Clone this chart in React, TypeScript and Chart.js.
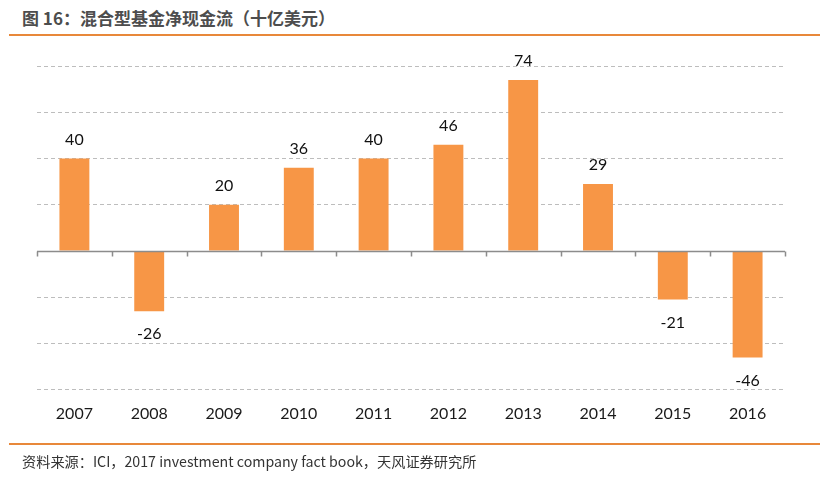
import React, { useEffect, useRef } from "react";
import { Chart, registerables } from "chart.js";

Chart.register(...registerables);

const categories = ["2007", "2008", "2009", "2010", "2011", "2012", "2013", "2014", "2015", "2016"];
const netFlows = [40, -26, 20, 36, 40, 46, 74, 29, -21, -46];
const yMin = -60;
const yMax = 80;
const yStep = 20;

const titleText = "图 16：混合型基金净现金流（十亿美元）";
const sourceText = "资料来源：ICI，2017 investment company fact book，天风证券研究所";

const BAR_COLOR = "#F79646";
const ACCENT = "#E8883A";
const NUM_FONT = "Lato, 'Open Sans', sans-serif";
const CJK_FONT = "'Noto Sans CJK SC', 'Noto Sans', sans-serif";

const zeroAxisPlugin = {
  id: "zeroAxis",
  afterDatasetsDraw(chart: any) {
    const { ctx, chartArea, scales } = chart;
    const y0 = Math.round(scales.y.getPixelForValue(0)) + 0.5;
    ctx.save();
    ctx.strokeStyle = "#8c8c8c";
    ctx.lineWidth = 1.5;
    ctx.beginPath();
    ctx.moveTo(chartArea.left, y0);
    ctx.lineTo(chartArea.right, y0);
    const n = categories.length;
    const w = (chartArea.right - chartArea.left) / n;
    for (let i = 0; i <= n; i++) {
      const x = Math.round(chartArea.left + i * w) + 0.5;
      ctx.moveTo(x, y0);
      ctx.lineTo(x, y0 + 5);
    }
    ctx.stroke();
    ctx.restore();
  },
};

const valueLabelPlugin = {
  id: "valueLabels",
  afterDatasetsDraw(chart: any) {
    const { ctx } = chart;
    const meta = chart.getDatasetMeta(0);
    ctx.save();
    ctx.font = `16px ${NUM_FONT}`;
    ctx.fillStyle = "#111111";
    ctx.textAlign = "center";
    ctx.textBaseline = "middle";
    meta.data.forEach((bar: any, i: number) => {
      const v = netFlows[i];
      const y = v >= 0 ? bar.y - 19 : bar.y + 23;
      ctx.fillText(String(v), bar.x, y);
    });
    ctx.restore();
  },
};

export default function App() {
  const canvasRef = useRef<HTMLCanvasElement | null>(null);

  useEffect(() => {
    document.body.style.margin = "0";
    const canvas = canvasRef.current;
    if (!canvas) return;
    const chart = new Chart(canvas, {
      type: "bar",
      data: {
        labels: categories,
        datasets: [
          {
            data: netFlows,
            backgroundColor: BAR_COLOR,
            borderWidth: 0,
            categoryPercentage: 1,
            barPercentage: 0.4,
          },
        ],
      },
      options: {
        responsive: false,
        animation: false,
        events: [],
        layout: { padding: { left: 37, right: 35, top: 66, bottom: 41 } },
        plugins: {
          legend: { display: false },
          tooltip: { enabled: false },
          title: { display: false },
        },
        scales: {
          x: {
            grid: { display: false, drawTicks: false },
            border: { display: false },
            ticks: {
              padding: 14,
              color: "#1a1a1a",
              font: { family: NUM_FONT, size: 16 },
              maxRotation: 0,
            },
          },
          y: {
            display: true,
            min: yMin,
            max: yMax,
            grid: {
              drawTicks: false,
              color: (c: any) => (c.tick && c.tick.value === 0 ? "rgba(0,0,0,0)" : "#bdbdbd"),
              lineWidth: 1,
            },
            border: { display: false, dash: [4, 3] },
            ticks: { display: false, stepSize: yStep },
          },
        },
      },
      plugins: [zeroAxisPlugin, valueLabelPlugin],
    });
    return () => chart.destroy();
  }, []);

  return (
    <div style={{ position: "absolute", left: 0, top: 0, width: 820, height: 478, background: "#fff" }}>
      <div
        style={{
          position: "absolute",
          left: 22,
          top: 7,
          fontFamily: CJK_FONT,
          fontWeight: 700,
          fontSize: 17,
          lineHeight: "22px",
          color: "#4d4d4d",
          whiteSpace: "nowrap",
        }}
      >
        {titleText}
      </div>
      <div style={{ position: "absolute", left: 9, top: 34, width: 811, height: 2, background: ACCENT }} />
      <canvas ref={canvasRef} width={820} height={478} style={{ position: "absolute", left: 0, top: 0 }} />
      <div style={{ position: "absolute", left: 9, top: 443, width: 811, height: 2, background: ACCENT }} />
      <div
        style={{
          position: "absolute",
          left: 22,
          top: 451,
          fontFamily: CJK_FONT,
          fontSize: 14.2,
          lineHeight: "20px",
          color: "#333333",
          whiteSpace: "nowrap",
        }}
      >
        {sourceText}
      </div>
    </div>
  );
}
